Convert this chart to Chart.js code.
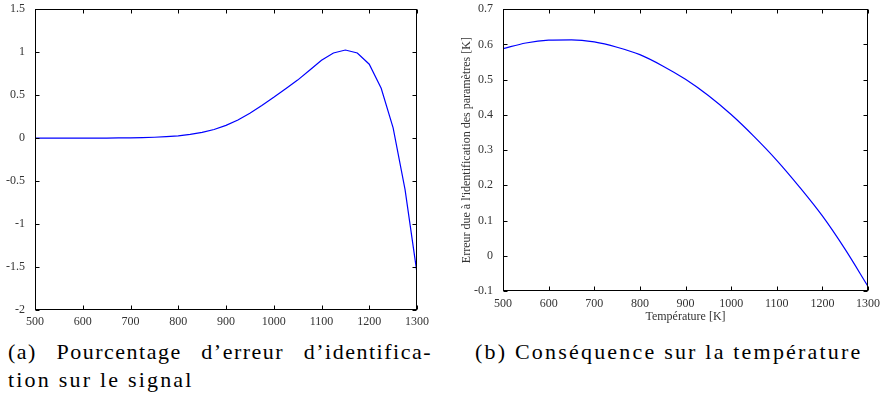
<!DOCTYPE html>
<html><head><meta charset="utf-8">
<script src="https://cdn.jsdelivr.net/npm/chart.js@4.4.0/dist/chart.umd.min.js"></script>
<style>
html,body{margin:0;padding:0;background:#fff;width:882px;height:400px;overflow:hidden;}
#wa{position:absolute;left:0;top:0;width:440px;height:330px;}
#wb{position:absolute;left:440px;top:0;width:442px;height:330px;}
.cap{position:absolute;font-family:"Liberation Serif",serif;font-size:22px;line-height:28px;color:#000;white-space:nowrap;letter-spacing:2.2px;}
#ca1{left:8px;top:338px;width:424px;text-align:justify;text-align-last:justify;white-space:normal;letter-spacing:1.5px;}
#ca2{left:8px;top:366px;}
#cb{left:475px;top:338px;}
</style></head>
<body>
<div id="wa"><canvas id="ca" width="440" height="330"></canvas></div>
<div id="wb"><canvas id="cb2" width="442" height="330"></canvas></div>
<div class="cap" id="ca1">(a) Pourcentage d’erreur d’identifica-</div>
<div class="cap" id="ca2">tion sur le signal</div>
<div class="cap" id="cb">(b) Conséquence sur la température</div>
<script>
// ---- data ----
const tempA = [500,525,550,575,600,625,650,675,700,725,750,775,800,825,850,875,900,925,950,975,1000,1025,1050,1075,1100,1125,1150,1175,1200,1225,1250,1275,1300];
const errSignal = [0,0,0,0,0,0.0005,0.001,0.002,0.003,0.006,0.01,0.017,0.027,0.043,0.066,0.10,0.148,0.21,0.29,0.38,0.475,0.575,0.675,0.79,0.905,0.99,1.025,0.99,0.86,0.58,0.12,-0.6,-1.57];
const tempB = [500,550,600,650,700,750,800,850,900,950,1000,1050,1100,1150,1200,1250,1300];
const errTemp = [0.588,0.604,0.612,0.613,0.607,0.592,0.571,0.539,0.501,0.455,0.401,0.339,0.271,0.195,0.113,0.018,-0.087];
const yTitleB = "Erreur due à l'identification des paramètres [K]";
const xTitleB = "Température [K]";

const boxPlugin = {
  id:'boxTicks',
  afterDatasetsDraw(chart){
    const {ctx, chartArea:a} = chart;
    const x = chart.scales.x, y = chart.scales.y;
    const L = Math.round(a.left)+0.5, R = Math.round(a.right)-0.5, T = Math.round(a.top)+0.5, B = Math.round(a.bottom)-0.5;
    ctx.save();
    ctx.strokeStyle = '#000'; ctx.lineWidth = 1;
    ctx.beginPath();
    x.ticks.forEach(t => {
      const px = Math.round(x.getPixelForValue(t.value))+0.5;
      ctx.moveTo(px,B); ctx.lineTo(px,B-4);
      ctx.moveTo(px,T); ctx.lineTo(px,T+4);
    });
    y.ticks.forEach(t => {
      const py = Math.round(y.getPixelForValue(t.value))+0.5;
      ctx.moveTo(L,py); ctx.lineTo(L+4,py);
      ctx.moveTo(R,py); ctx.lineTo(R-4,py);
    });
    ctx.stroke();
    ctx.strokeRect(L,T,R-L,B-T);
    ctx.restore();
  }
};

const tickFont = {family:'Liberation Serif', size:12};
const tickColor = '#333';
const fmt = v => String(Math.round(v*1000)/1000);

function mkScales(xmin,xmax,xstep,ymin,ymax,ystep,yW,xH,xPad,xTitle,yTitle){
  return {
    x:{type:'linear',min:xmin,max:xmax,
       ticks:{stepSize:xstep,padding:xPad,color:tickColor,font:tickFont,callback:fmt,maxRotation:0,autoSkip:false},
       grid:{display:false},border:{display:false},
       title: xTitle ? {display:true,text:xTitle,color:tickColor,font:tickFont,padding:{top:0,bottom:6}} : {display:false},
       afterFit:s=>{s.height=xH;}},
    y:{type:'linear',min:ymin,max:ymax,
       ticks:{stepSize:ystep,padding:2,color:tickColor,font:tickFont,callback:fmt,autoSkip:false},
       grid:{display:false},border:{display:false},
       title: yTitle ? {display:true,text:yTitle,color:tickColor,font:tickFont,padding:{top:20,bottom:0}} : {display:false},
       afterFit:s=>{s.width=yW;}}
  };
}

new Chart(document.getElementById('ca'),{
  type:'line',
  data:{datasets:[{data:tempA.map((t,i)=>({x:t,y:errSignal[i]})),borderColor:'#0000ff',borderWidth:1.2,pointRadius:0,tension:0,fill:false}]},
  options:{responsive:false,animation:false,events:[],
    plugins:{legend:{display:false},tooltip:{enabled:false}},
    layout:{padding:{left:0,top:9,right:23,bottom:0}},
    scales:mkScales(500,1300,100,-2,1.5,0.5,35,20,-3,null,null)},
  plugins:[boxPlugin]
});

new Chart(document.getElementById('cb2'),{
  type:'line',
  data:{datasets:[{data:tempB.map((t,i)=>({x:t,y:errTemp[i]})),borderColor:'#0000ff',borderWidth:1.2,pointRadius:0,cubicInterpolationMode:'monotone',fill:false}]},
  options:{responsive:false,animation:false,events:[],
    plugins:{legend:{display:false},tooltip:{enabled:false}},
    layout:{padding:{left:0,top:4,right:14,bottom:0}},
    scales:mkScales(500,1300,100,-0.1,0.7,0.1,63,39,-2,xTitleB,yTitleB)},
  plugins:[boxPlugin]
});
</script>
</body></html>
